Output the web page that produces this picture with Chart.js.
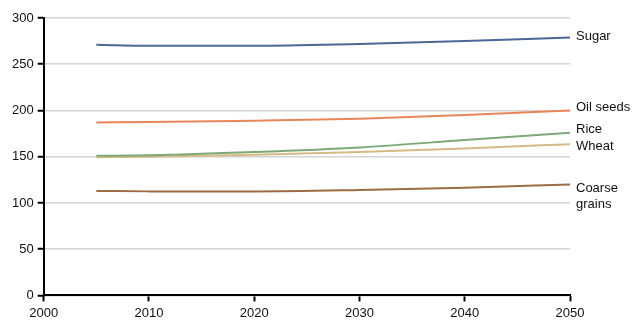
<!DOCTYPE html>
<html>
<head>
  <title>Crop projections</title>
  <script src="https://cdn.jsdelivr.net/npm/chart.js"></script>
  <style>
    body { margin: 0; background: #fff; }
  </style>
</head>
<body>
  <canvas id="chart" width="640" height="326"></canvas>

  <script>
    const years = [2005, 2010, 2020, 2030, 2040, 2050];
    const sugar = [271, 270, 270, 272, 275, 279];
    const oilSeeds = [187, 187.5, 189, 191, 195, 200];
    const rice = [151, 151.5, 155, 160, 168, 176];
    const wheat = [149.5, 150, 152, 155, 159, 163.5];
    const coarseGrains = [113, 112.5, 112.5, 114, 116.5, 120];
    const xTicks = [2000, 2010, 2020, 2030, 2040, 2050];

    const series = [
      { label: ['Sugar'], data: sugar, color: '#4c6797' },
      { label: ['Oil seeds'], data: oilSeeds, color: '#e9855a' },
      { label: ['Rice'], data: rice, color: '#7ca975' },
      { label: ['Wheat'], data: wheat, color: '#d6ba84' },
      { label: ['Coarse', 'grains'], data: coarseGrains, color: '#9c6c44' }
    ];

    const FONT = '"Liberation Sans", Arial, sans-serif';

    // names at the right end of each line
    const endLabels = {
      id: 'endLabels',
      afterDatasetsDraw(chart) {
        const ctx = chart.ctx;
        ctx.save();
        ctx.font = '13px ' + FONT;
        ctx.fillStyle = '#111';
        ctx.textBaseline = 'middle';
        const nudge = [-1, -3, -3, 2, 4];
        chart.data.datasets.forEach((ds, i) => {
          const meta = chart.getDatasetMeta(i);
          const pt = meta.data[meta.data.length - 1];
          series[i].label.forEach((t, j) => {
            ctx.fillText(t, pt.x + 6, pt.y + nudge[i] + j * 16);
          });
        });
        ctx.restore();
      }
    };

    new Chart(document.getElementById('chart'), {
      type: 'line',
      data: {
        datasets: series.map(s => ({
          label: s.label.join(' '),
          data: s.data.map((v, i) => ({ x: years[i], y: v })),
          borderColor: s.color,
          borderWidth: 2,
          pointRadius: 0,
          cubicInterpolationMode: 'monotone',
          fill: false
        }))
      },
      options: {
        responsive: false,
        animation: false,
        layout: { padding: { top: 18, right: 70, bottom: 1, left: 8 } },
        plugins: { legend: { display: false }, tooltip: { enabled: false } },
        scales: {
          x: {
            type: 'linear',
            min: 2000,
            max: 2050,
            afterBuildTicks: axis => { axis.ticks = xTicks.map(v => ({ value: v })); },
            ticks: {
              color: '#111',
              font: { family: FONT, size: 13 },
              padding: 4,
              maxRotation: 0,
              callback: v => String(v)
            },
            grid: { drawOnChartArea: false, tickLength: 6, tickColor: '#000', tickWidth: 2 },
            border: { color: '#000', width: 2 }
          },
          y: {
            min: 0,
            max: 300,
            ticks: {
              stepSize: 50,
              color: '#111',
              font: { family: FONT, size: 13 },
              padding: 4
            },
            grid: { color: '#d4d4d4', lineWidth: 1.5, tickLength: 6, tickColor: '#000', tickWidth: 2 },
            border: { color: '#000', width: 2 }
          }
        }
      },
      plugins: [endLabels]
    });
  </script>
</body>
</html>
